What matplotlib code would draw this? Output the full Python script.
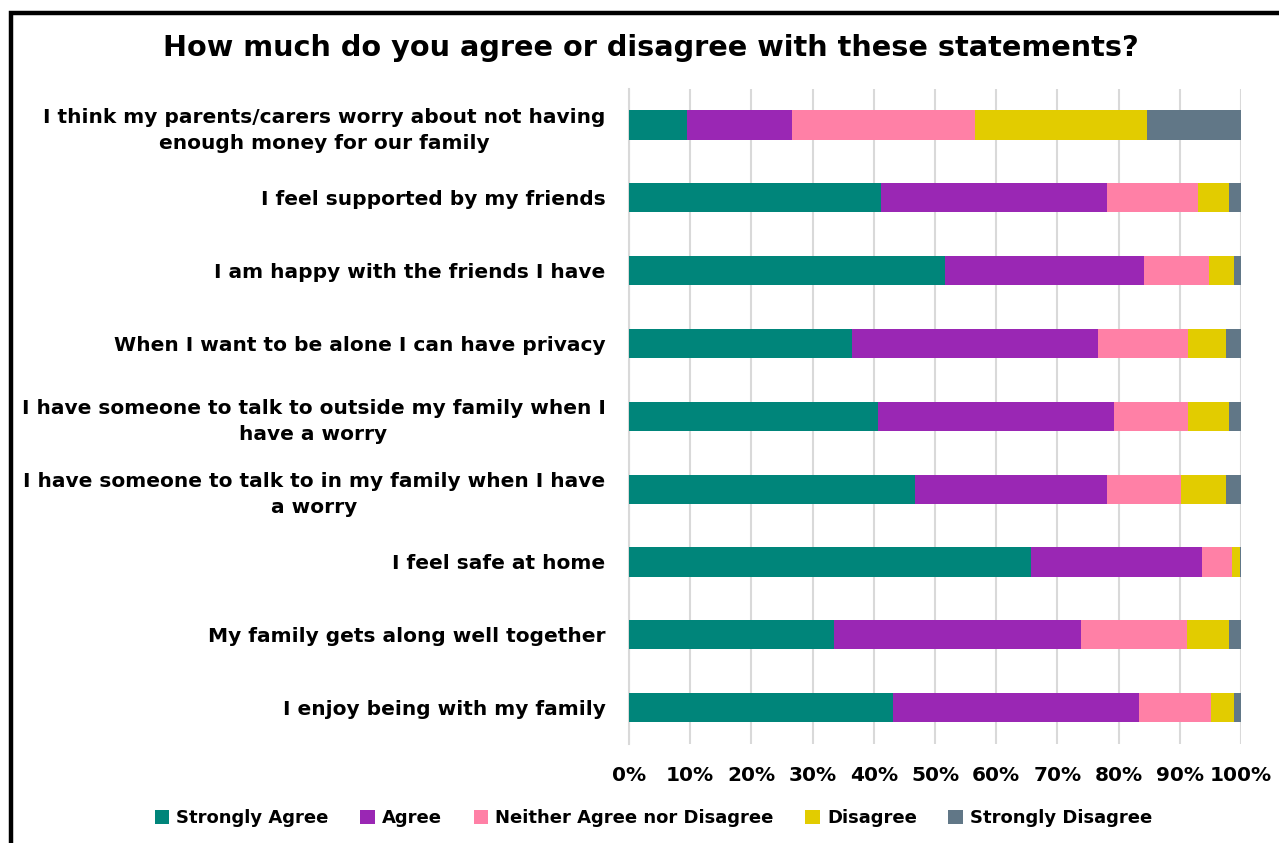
import matplotlib.pyplot as plt
import numpy as np
from matplotlib.patches import Patch, Rectangle

# survey statements, top to bottom
statements = [
    "I think my parents/carers worry about not having\nenough money for our family",
    "I feel supported by my friends",
    "I am happy with the friends I have",
    "When I want to be alone I can have privacy",
    "I have someone to talk to outside my family when I\nhave a worry",
    "I have someone to talk to in my family when I have\na worry",
    "I feel safe at home",
    "My family gets along well together",
    "I enjoy being with my family",
]
responses = ["Strongly Agree", "Agree", "Neither Agree nor Disagree", "Disagree", "Strongly Disagree"]

# percentage answering each response, per statement
strongly_agree    = [9.5, 41.1, 51.6, 36.4, 40.7, 46.7, 65.7, 33.5, 43.2]
agree             = [17.1, 37.0, 32.5, 40.2, 38.5, 31.4, 28.0, 40.3, 40.2]
neither           = [30.0, 14.8, 10.6, 14.7, 12.1, 12.1, 4.9, 17.3, 11.7]
disagree          = [28.0, 5.2, 4.2, 6.3, 6.7, 7.4, 1.2, 7.0, 3.8]
strongly_disagree = [15.4, 1.9, 1.1, 2.4, 2.0, 2.4, 0.2, 1.9, 1.1]

colors = ["#00857A", "#9A27B4", "#FF80A6", "#E2CC00", "#617787"]
font = "DejaVu Sans"

fig = plt.figure(figsize=(12.79, 8.43), dpi=100)
fig.patch.set_facecolor("white")
ax = fig.add_axes([0.4918, 0.1174, 0.4785, 0.7775])

series = [strongly_agree, agree, neither, disagree, strongly_disagree]
y = np.arange(len(statements))
left = np.zeros(len(statements))
for vals, col in zip(series, colors):
    vals = np.array(vals)
    ax.barh(y, vals, left=left, height=0.40, color=col, zorder=3)
    left += vals

ax.set_xlim(0, 100)
ax.set_ylim(len(statements) - 0.5, -0.5)
ax.set_xticks(np.arange(0, 101, 10))
ax.set_xticklabels([f"{v}%" for v in range(0, 101, 10)], fontsize=14.5,
                   fontweight="bold", family=font)
ax.set_yticks(y)
ax.set_yticklabels(statements, fontsize=14.5, fontweight="bold", family=font,
                   multialignment="center", linespacing=1.45)
ax.tick_params(axis="both", length=0)
ax.tick_params(axis="x", pad=16)
ax.tick_params(axis="y", pad=17)
ax.grid(axis="x", color="#D9D9D9", lw=1.5, zorder=0)
for s in ["top", "right", "bottom"]:
    ax.spines[s].set_visible(False)
ax.spines["left"].set_color("#D9D9D9")
ax.spines["left"].set_linewidth(1.5)

fig.text(0.509, 1 - 48 / 843, "How much do you agree or disagree with these statements?",
         ha="center", va="center", fontsize=20.7, fontweight="bold", family=font)

handles = [Patch(facecolor=c, edgecolor="none") for c in colors]
fig.legend(handles, responses, loc="center", bbox_to_anchor=(0.511, 0.0297), ncol=5,
           frameon=False, handlelength=0.8, handleheight=0.8, handletextpad=0.4,
           columnspacing=1.75, prop={"family": font, "weight": "bold", "size": 13})

# outer frame
fig.add_artist(Rectangle((10.5 / 1279, -0.1), 1.2, 1.1 - 13 / 843, transform=fig.transFigure,
                         fill=False, edgecolor="black", lw=3.2, clip_on=False))

fig.savefig("out.png", dpi=100)
